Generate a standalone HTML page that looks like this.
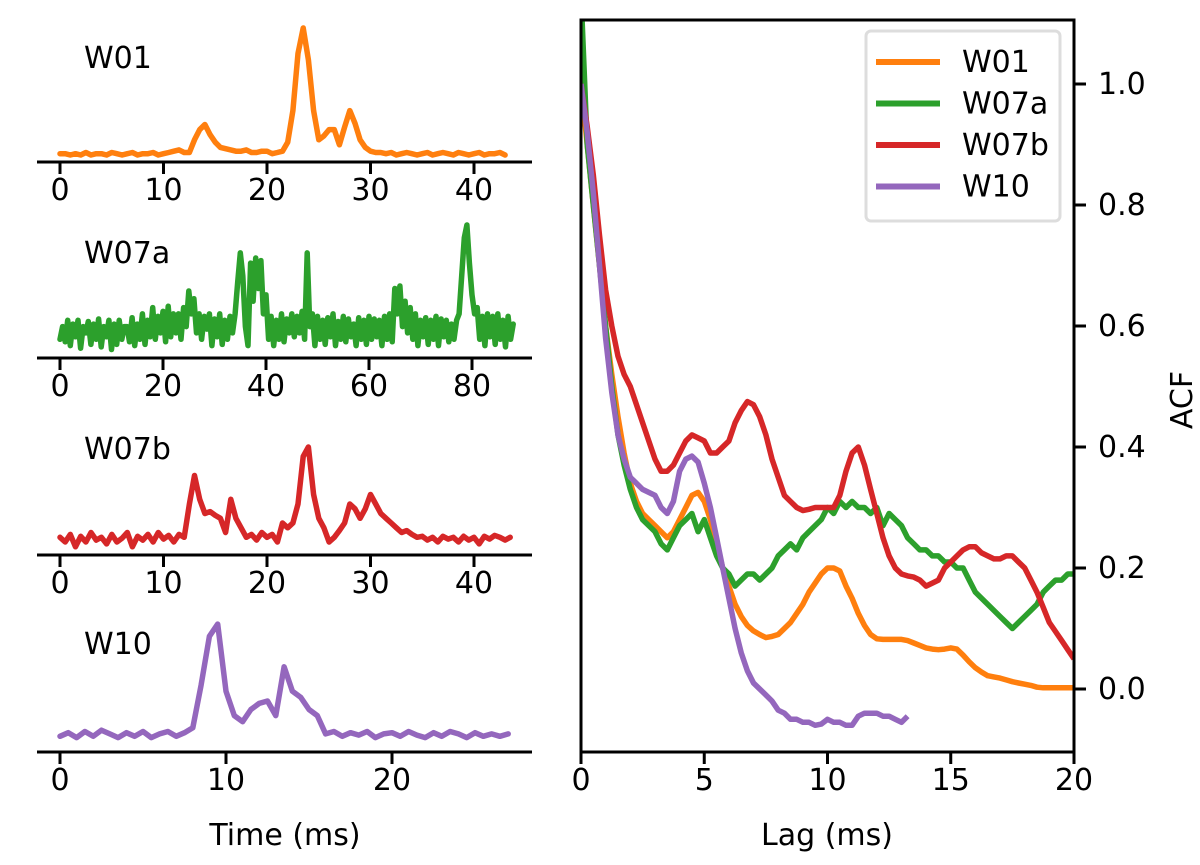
<!DOCTYPE html>
<html><head><meta charset="utf-8"><style>
html,body{margin:0;padding:0;background:#fff;}
svg{display:block;font-family:"DejaVu Sans","Liberation Sans",sans-serif;}
</style></head><body>
<svg id="chart" width="1200" height="865" viewBox="0 0 1200 865">
<g id="left"></g>
<g id="right"></g>
<text x="285" y="845" font-size="30" text-anchor="middle">Time (ms)</text>
<text x="827" y="845" font-size="30" text-anchor="middle">Lag (ms)</text>
<text transform="translate(1192,400) rotate(-90)" font-size="30" text-anchor="middle">ACF</text>
</svg>
<script>
// ---- burst profile data (step in ms, normalized intensity) ----
const w01Step = 0.5;
const w01 = [0.01,0.01,0,0.01,0,0.02,0,0.01,0.01,0,0.02,0.01,0,0.01,0.02,0,0.01,0.01,0.02,0,0.01,0.02,0.03,0.04,0.02,0.02,0.12,0.2,0.24,0.16,0.1,0.06,0.05,0.04,0.03,0.03,0.04,0.02,0.02,0.03,0.03,0.01,0.02,0.03,0.1,0.35,0.8,1.0,0.75,0.35,0.12,0.15,0.2,0.2,0.08,0.22,0.35,0.25,0.12,0.06,0.03,0.02,0.02,0.01,0.02,0,0.01,0.02,0.01,0,0.01,0.02,0,0.01,0.02,0.01,0,0.02,0.01,0,0.01,0.02,0,0.01,0.01,0.02,0];
const w07aStep = 0.5;
const w07a = [0.1,0.2,0.08,0.25,0.05,0.22,0.12,0.25,0.03,0.2,0.15,0.24,0.06,0.22,0.1,0.26,0.04,0.2,0.12,0.25,0.02,
0.22,0.06,0.25,0.1,0.2,
0.2,0.08,0.27,0.05,0.22,0.1,0.3,0.06,0.25,0.12,0.35,0.1,0.28,0.15,0.32,0.08,0.36,0.12,0.3,
0.15,0.3,0.1,0.35,0.2,0.48,0.3,0.42,0.15,0.3,0.1,0.28,0.18,0.3,0.05,0.26,0.12,0.3,0.06,
0.25,0.1,0.28,0.15,0.3,0.55,0.78,0.6,0.2,0.05,0.7,0.4,0.74,0.5,0.72,0.3,0.45,0.1,0.28,
0.05,0.25,0.1,0.3,0.08,0.26,0.15,0.3,0.12,0.28,0.15,0.32,0.1,0.78,0.2,0.3,0.05,0.28,0.1,
0.25,0.06,0.27,0.12,0.3,0.05,0.24,0.1,0.28,0.08,0.26,0.12,0.22,0.05,0.27,0.1,0.25,0.06,0.28,
0.1,0.26,
0.12,0.25,0.05,0.28,0.1,0.3,0.08,0.5,0.3,0.52,0.2,0.4,0.15,0.35,0.1,0.3,0.05,0.25,0.12,
0.27,0.06,0.25,0.1,0.28,0.05,0.26,0.12,0.25,0.08,0.22,0.1,0.25,0.3,0.6,0.9,1.0,0.7,0.45,
0.3,0.35,0.1,0.28,0.05,0.3,0.12,0.28,0.06,0.3,0.1,0.25,0.04,0.28,0.1,0.22];
const w07bStep = 0.5;
const w07b = [0.05,0.0,0.08,-0.05,0.06,0.0,0.1,0.02,0.05,-0.02,0.08,0.0,0.04,0.1,-0.05,0.06,0.02,0.08,0.0,0.1,0.03,0.07,0.0,0.08,0.05,0.4,0.7,0.45,0.3,0.32,0.28,0.25,0.1,0.45,0.25,0.15,0.05,0.08,0.02,0.1,0.05,0.08,0.0,0.2,0.15,0.2,0.4,0.9,1.0,0.5,0.25,0.15,0.0,0.05,0.12,0.2,0.4,0.35,0.25,0.35,0.5,0.4,0.3,0.25,0.2,0.15,0.1,0.12,0.08,0.05,0.06,0.02,0.05,0.0,0.06,0.03,0.05,0.0,0.06,0.02,0.05,-0.02,0.06,0.03,0.07,0.05,0.02,0.05];
const w10Step = 0.5;
const w10 = [0.03,0.06,0.02,0.07,0.03,0.08,0.05,0.02,0.06,0.03,0.07,0.02,0.05,0.07,0.03,0.06,0.1,0.45,0.85,0.95,0.4,0.2,0.15,0.25,0.3,0.32,0.2,0.6,0.4,0.35,0.25,0.2,0.05,0.07,0.03,0.06,0.04,0.07,0.02,0.05,0.06,0.03,0.07,0.04,0.02,0.06,0.03,0.07,0.05,0.02,0.06,0.03,0.05,0.03,0.05];
// ---- ACF data (lag step 0.25 ms) ----
const acfStep = 0.25;
const acfW01 = [1.0,0.9,0.8,0.7,0.6,0.52,0.45,0.39,0.34,0.31,0.29,0.28,0.27,0.26,0.25,0.26,0.28,0.3,0.32,0.325,0.31,0.28,0.24,0.2,0.17,0.14,0.12,0.105,0.096,0.09,0.085,0.087,0.09,0.1,0.11,0.125,0.14,0.16,0.175,0.19,0.2,0.2,0.195,0.17,0.15,0.125,0.105,0.09,0.083,0.082,0.082,0.082,0.082,0.08,0.076,0.072,0.068,0.066,0.065,0.066,0.068,0.066,0.056,0.045,0.035,0.028,0.022,0.02,0.018,0.015,0.012,0.01,0.008,0.006,0.003,0.002,0.002,0.002,0.002,0.002,0.002];
const acfW07a = [1.15,0.9,0.8,0.7,0.6,0.5,0.42,0.37,0.33,0.3,0.28,0.27,0.26,0.24,0.23,0.25,0.27,0.28,0.29,0.26,0.28,0.25,0.22,0.2,0.19,0.17,0.18,0.19,0.19,0.18,0.19,0.2,0.22,0.23,0.24,0.23,0.25,0.26,0.27,0.28,0.3,0.29,0.31,0.3,0.31,0.3,0.3,0.29,0.3,0.27,0.29,0.28,0.27,0.25,0.24,0.23,0.23,0.22,0.22,0.21,0.21,0.2,0.2,0.18,0.16,0.15,0.14,0.13,0.12,0.11,0.1,0.11,0.12,0.13,0.14,0.16,0.17,0.18,0.18,0.19,0.19];
const acfW07b = [1.0,0.93,0.85,0.75,0.66,0.6,0.55,0.52,0.5,0.47,0.44,0.41,0.38,0.36,0.36,0.37,0.39,0.41,0.42,0.415,0.41,0.39,0.39,0.4,0.41,0.44,0.46,0.475,0.47,0.45,0.42,0.38,0.35,0.32,0.31,0.3,0.295,0.297,0.3,0.3,0.3,0.3,0.32,0.36,0.39,0.4,0.37,0.33,0.29,0.25,0.22,0.2,0.19,0.187,0.185,0.18,0.17,0.175,0.18,0.2,0.21,0.22,0.23,0.235,0.235,0.225,0.22,0.215,0.215,0.22,0.22,0.21,0.2,0.18,0.16,0.135,0.11,0.095,0.08,0.065,0.05];
const acfW10 = [1.0,0.92,0.82,0.7,0.58,0.49,0.42,0.38,0.35,0.34,0.33,0.325,0.32,0.3,0.29,0.31,0.36,0.38,0.385,0.375,0.34,0.3,0.25,0.2,0.15,0.1,0.06,0.03,0.01,0.0,-0.01,-0.02,-0.035,-0.04,-0.05,-0.05,-0.055,-0.055,-0.06,-0.058,-0.05,-0.055,-0.055,-0.06,-0.06,-0.045,-0.04,-0.04,-0.04,-0.045,-0.045,-0.05,-0.055,-0.045];
const timeTicksA = [0,10,20,30,40];
const timeTicksB = [0,20,40,60,80];
const timeTicksC = [0,10,20];
const lagTicks = [0,5,10,15,20];
const acfTicks = [0.0,0.2,0.4,0.6,0.8,1.0];
const acfTickLabels = ["0.0","0.2","0.4","0.6","0.8","1.0"];
const seriesNames = ["W01","W07a","W07b","W10"];
const colors = ["#ff7f0e","#2ca02c","#d62728","#9467bd"];

const NS="http://www.w3.org/2000/svg";
function mk(tag, attrs, parent){const e=document.createElementNS(NS,tag);for(const k in attrs)e.setAttribute(k,attrs[k]);parent.appendChild(e);return e;}

const left=document.getElementById('left');
const panels=[
 {name:"W01",data:w01,step:w01Step,ticks:timeTicksA,axisY:162,base:155,amp:127,pxPer:10.35,color:colors[0],labelY:68,lw:5.5},
 {name:"W07a",data:w07a,step:w07aStep,ticks:timeTicksB,axisY:358,base:352,amp:127,pxPer:5.15,color:colors[1],labelY:263,lw:5.5},
 {name:"W07b",data:w07b,step:w07bStep,ticks:timeTicksA,axisY:555,base:542,amp:95,pxPer:10.35,color:colors[2],labelY:459,lw:5.5},
 {name:"W10",data:w10,step:w10Step,ticks:timeTicksC,axisY:752,base:740,amp:122,pxPer:16.6,color:colors[3],labelY:654,lw:5.5}
];
panels.forEach(p=>{
  const g=mk('g',{},left);
  
  
  const xs=t=>60+t*p.pxPer;
  const ys=v=>p.base-v*p.amp;
  const pts=p.data.map((v,i)=>xs(i*p.step).toFixed(1)+','+ys(v).toFixed(1)).join(' ');
  const line=mk('polyline',{points:pts,fill:'none',stroke:p.color,'stroke-width':p.lw,'stroke-linejoin':'round','stroke-linecap':'round'},g);
  
  
  const ax=mk('line',{x1:37,x2:532,y1:p.axisY,y2:p.axisY,stroke:'#000','stroke-width':3},g);
  
  
  p.ticks.forEach(t=>{
    mk('line',{x1:xs(t),x2:xs(t),y1:p.axisY,y2:p.axisY+12,stroke:'#000','stroke-width':3},g);
    const tx=mk('text',{x:xs(t),y:p.axisY+38,'font-size':30,'text-anchor':'middle'},g);
    tx.textContent=t;
    
    
  });
  const lb=mk('text',{x:84,y:p.labelY,'font-size':30},g);
  lb.textContent=p.name;
  
  
});

// right panel
const right=document.getElementById('right');
const X0=581,X1=1074,Ytop=20,Ybot=752;
const lx=l=>X0+l*(X1-X0)/20;
const ly=v=>689-v*605;
const clip=mk('clipPath',{id:'rc'},right);
mk('rect',{x:X0,y:Ytop,width:X1-X0,height:Ybot-Ytop},clip);
const acfs=[acfW01,acfW07a,acfW07b,acfW10];
acfs.forEach((d,k)=>{
  const pts=d.map((v,i)=>lx(i*acfStep).toFixed(1)+','+ly(v).toFixed(1)).join(' ');
  const pl=mk('polyline',{points:pts,fill:'none',stroke:colors[k],'stroke-width':5.5,'stroke-linejoin':'round','clip-path':'url(#rc)'},right);
  
  
});
const frame=mk('rect',{x:X0,y:Ytop,width:X1-X0,height:Ybot-Ytop,fill:'none',stroke:'#000','stroke-width':3},right);


lagTicks.forEach(t=>{
  mk('line',{x1:lx(t),x2:lx(t),y1:Ybot,y2:Ybot+12,stroke:'#000','stroke-width':3},right);
  const tx=mk('text',{x:lx(t),y:Ybot+38,'font-size':30,'text-anchor':'middle'},right);
  tx.textContent=t;
  
  
});
acfTicks.forEach((v,i)=>{
  mk('line',{x1:X1,x2:X1+12,y1:ly(v),y2:ly(v),stroke:'#000','stroke-width':3},right);
  const tx=mk('text',{x:X1+24,y:ly(v)+10,'font-size':30},right);
  tx.textContent=acfTickLabels[i];
  
  
});
// legend
const lg=mk('g',{},right);


mk('rect',{x:866,y:31,width:194,height:190,rx:5,fill:'#fff','fill-opacity':0.85,stroke:'#ddd','stroke-width':3},lg);
seriesNames.forEach((n,i)=>{
  const y=62+i*41.5;
  const e=mk('g',{},lg);
  
  
  mk('line',{x1:876,x2:940,y1:y,y2:y,stroke:colors[i],'stroke-width':6},e);
  const t=mk('text',{x:962,y:y+10,'font-size':30},e);
  t.textContent=n;
});
</script>
</body></html>
